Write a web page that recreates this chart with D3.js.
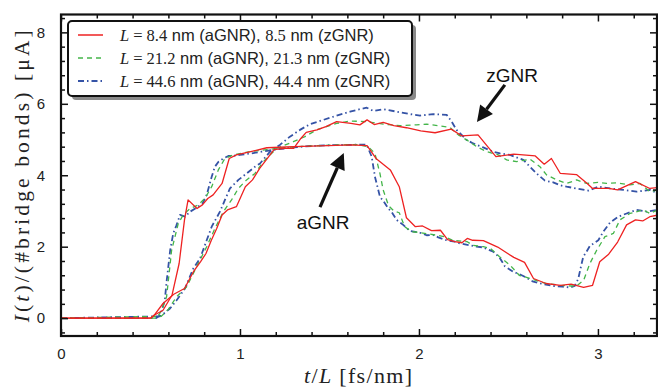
<!DOCTYPE html>
<html>
<head>
<meta charset="utf-8">
<script src="https://cdn.jsdelivr.net/npm/d3@7"></script>
<style>
  html, body { margin: 0; padding: 0; background: #fff; }
  svg { display: block; }
</style>
</head>
<body>
<svg id="chart" width="658" height="388"></svg>
<script>
// Current per bridge bond versus scaled time t/L, for three ribbon lengths.
// Each series: t/L values and currents in µA.

// L = 8.4 nm armchair ribbon
const tRedA = [0, 0.50, 0.52, 0.57, 0.62, 0.66, 0.69, 0.71, 0.76, 0.79, 0.82, 0.85, 0.90, 0.94, 0.98, 1.06, 1.15, 1.30, 1.45, 1.62, 1.71, 1.76, 1.84, 1.89, 1.93, 1.98, 2.02, 2.07, 2.12, 2.16, 2.20, 2.24, 2.27, 2.30, 2.36, 2.44, 2.53, 2.59, 2.64, 2.71, 2.79, 2.85, 2.92, 2.97, 3.01, 3.06, 3.11, 3.16, 3.21, 3.25, 3.29, 3.34];
const iRedA = [0, 0, 0.08, 0.22, 0.64, 1.53, 2.75, 3.31, 3.07, 3.17, 3.35, 3.45, 3.77, 4.47, 4.57, 4.66, 4.77, 4.80, 4.82, 4.85, 4.83, 4.47, 4.15, 3.68, 2.81, 2.56, 2.58, 2.45, 2.46, 2.20, 2.14, 2.11, 2.23, 2.18, 2.17, 1.99, 1.70, 1.56, 1.11, 0.97, 0.92, 0.95, 0.86, 0.92, 1.58, 1.79, 2.13, 2.61, 2.75, 2.72, 2.84, 2.89];

// L = 8.5 nm zigzag ribbon
const tRedZ = [0, 0.50, 0.52, 0.57, 0.63, 0.69, 0.74, 0.78, 0.81, 0.84, 0.87, 0.90, 0.93, 0.98, 1.03, 1.07, 1.11, 1.15, 1.19, 1.25, 1.30, 1.34, 1.37, 1.43, 1.48, 1.54, 1.62, 1.67, 1.71, 1.75, 1.80, 1.86, 1.93, 2.01, 2.09, 2.18, 2.24, 2.33, 2.43, 2.53, 2.65, 2.70, 2.74, 2.79, 2.88, 2.94, 2.97, 3.06, 3.11, 3.21, 3.29, 3.34];
const iRedZ = [0, 0, 0.08, 0.41, 0.67, 0.83, 1.30, 1.58, 1.81, 2.18, 2.51, 2.89, 3.03, 3.12, 3.68, 3.87, 4.19, 4.45, 4.72, 4.75, 4.75, 5.03, 5.20, 5.27, 5.36, 5.50, 5.45, 5.41, 5.55, 5.42, 5.48, 5.39, 5.33, 5.24, 5.19, 5.29, 5.10, 5.13, 4.52, 4.59, 4.54, 4.31, 4.47, 4.05, 4.02, 3.77, 3.63, 3.63, 3.59, 3.82, 3.63, 3.66];

// L = 21.2 nm armchair ribbon
const tGreenA = [0, 0.535, 0.56, 0.59, 0.60, 0.618, 0.637, 0.655, 0.683, 0.721, 0.767, 0.804, 0.842, 0.879, 0.916, 0.963, 1.056, 1.15, 1.25, 1.35, 1.45, 1.55, 1.65, 1.717, 1.754, 1.782, 1.80, 1.83, 1.86, 1.89, 1.92, 1.96, 2.00, 2.05, 2.10, 2.14, 2.19, 2.27, 2.30, 2.36, 2.40, 2.45, 2.51, 2.56, 2.64, 2.71, 2.79, 2.85, 2.88, 2.92, 2.955, 2.993, 3.039, 3.086, 3.123, 3.179, 3.253, 3.291, 3.335];
const iGreenA = [0, 0, 0.20, 0.60, 1.06, 1.90, 2.28, 2.65, 2.89, 3.07, 3.17, 3.35, 3.68, 4.15, 4.47, 4.57, 4.66, 4.72, 4.77, 4.81, 4.83, 4.85, 4.86, 4.80, 4.61, 4.05, 3.59, 3.15, 3.00, 2.95, 2.56, 2.42, 2.40, 2.36, 2.32, 2.28, 2.18, 2.14, 2.04, 2.00, 1.95, 1.72, 1.48, 1.20, 1.08, 0.97, 0.92, 0.90, 0.90, 1.06, 1.53, 1.90, 2.28, 2.37, 2.75, 2.93, 3.03, 2.93, 3.03];

// L = 21.3 nm zigzag ribbon
const tGreenZ = [0, 0.56, 0.60, 0.646, 0.702, 0.758, 0.814, 0.860, 0.907, 0.953, 0.991, 1.037, 1.084, 1.13, 1.205, 1.298, 1.363, 1.428, 1.54, 1.615, 1.708, 1.801, 1.894, 1.987, 2.043, 2.117, 2.173, 2.22, 2.266, 2.322, 2.378, 2.443, 2.49, 2.546, 2.62, 2.676, 2.713, 2.769, 2.825, 2.881, 2.937, 3.0, 3.049, 3.104, 3.179, 3.235, 3.291, 3.335];
const iGreenZ = [0, 0.05, 0.25, 0.60, 0.88, 1.44, 2.00, 2.51, 2.98, 3.31, 3.63, 3.87, 4.05, 4.38, 4.75, 4.94, 5.08, 5.27, 5.45, 5.52, 5.50, 5.43, 5.39, 5.41, 5.43, 5.38, 5.34, 5.13, 4.99, 4.80, 4.66, 4.57, 4.43, 4.38, 4.45, 4.24, 4.01, 3.87, 3.77, 3.87, 3.77, 3.80, 3.77, 3.79, 3.73, 3.77, 3.54, 3.59];

// L = 44.6 nm armchair ribbon
const tBlueA = [0, 0.53, 0.555, 0.58, 0.59, 0.61, 0.627, 0.645, 0.665, 0.693, 0.721, 0.76, 0.79, 0.814, 0.842, 0.86, 0.88, 0.907, 0.935, 0.97, 1.0, 1.06, 1.12, 1.2, 1.3, 1.4, 1.5, 1.6, 1.69, 1.708, 1.736, 1.754, 1.782, 1.805, 1.829, 1.85, 1.875, 1.912, 1.95, 2.006, 2.043, 2.08, 2.108, 2.155, 2.2, 2.229, 2.285, 2.322, 2.359, 2.415, 2.45, 2.48, 2.527, 2.583, 2.639, 2.7, 2.75, 2.80, 2.844, 2.87, 2.89, 2.905, 2.918, 2.935, 2.955, 3.002, 3.03, 3.067, 3.114, 3.16, 3.216, 3.272, 3.335];
const iBlueA = [0, 0, 0.08, 0.50, 1.02, 1.90, 2.37, 2.60, 2.89, 2.84, 2.98, 3.10, 3.20, 3.45, 3.96, 4.24, 4.38, 4.47, 4.54, 4.55, 4.57, 4.61, 4.66, 4.72, 4.78, 4.82, 4.84, 4.85, 4.86, 4.85, 4.52, 3.96, 3.40, 3.25, 3.07, 2.95, 2.75, 2.61, 2.44, 2.39, 2.32, 2.33, 2.26, 2.18, 2.14, 2.09, 2.04, 2.00, 1.98, 1.86, 1.70, 1.45, 1.30, 1.18, 1.02, 0.95, 0.90, 0.88, 0.86, 0.90, 1.10, 1.44, 1.72, 1.85, 2.02, 2.18, 2.42, 2.67, 2.84, 2.93, 3.03, 2.98, 3.03];

// L = 44.4 nm zigzag ribbon
const tBlueZ = [0, 0.553, 0.58, 0.609, 0.646, 0.693, 0.739, 0.777, 0.814, 0.842, 0.888, 0.916, 0.944, 0.991, 1.037, 1.084, 1.112, 1.168, 1.223, 1.279, 1.335, 1.391, 1.466, 1.54, 1.615, 1.67, 1.708, 1.745, 1.801, 1.876, 1.95, 2.006, 2.08, 2.155, 2.183, 2.21, 2.266, 2.303, 2.359, 2.415, 2.453, 2.508, 2.583, 2.62, 2.657, 2.704, 2.75, 2.788, 2.825, 2.881, 2.946, 3.002, 3.067, 3.142, 3.216, 3.291, 3.335];
const iBlueZ = [0, 0.05, 0.15, 0.27, 0.50, 0.83, 1.39, 1.67, 2.18, 2.56, 2.98, 3.31, 3.63, 3.87, 4.05, 4.24, 4.33, 4.66, 4.85, 5.08, 5.27, 5.43, 5.55, 5.67, 5.78, 5.85, 5.89, 5.80, 5.85, 5.78, 5.71, 5.67, 5.71, 5.69, 5.50, 5.27, 4.99, 4.89, 4.78, 4.66, 4.61, 4.57, 4.43, 4.24, 4.05, 3.85, 3.80, 3.72, 3.68, 3.63, 3.57, 3.68, 3.63, 3.59, 3.54, 3.59, 3.49];

// Legend entries
const legendLengths = [["8.4", "8.5"], ["21.2", "21.3"], ["44.6", "44.4"]];
const seriesColors = ["#ee2222", "#44b54a", "#3553a6"];
const seriesDashes = [null, "5,4", "6,3,1.5,3"];

// Axis ticks
const xMajorTicks = [0, 1, 2, 3];
const yMajorTicks = [0, 2, 4, 6, 8];

const svg = d3.select("#chart");
const plot = { left: 61, right: 657, top: 14.5, bottom: 336 };

const x = d3.scaleLinear().domain([0, 3.33]).range([plot.left, plot.right]);
const y = d3.scaleLinear().domain([-0.5, 8.5]).range([plot.bottom, plot.top]);

const xMinor = d3.range(0, 3.33, 0.2).map(v => +v.toFixed(2)).filter(v => !xMajorTicks.includes(v));
const yMinor = d3.range(-0.4, 8.5, 0.4).map(v => +v.toFixed(2)).filter(v => !yMajorTicks.includes(v));

// Curves
const groups = [
  [[tRedA, iRedA], [tRedZ, iRedZ]],
  [[tGreenA, iGreenA], [tGreenZ, iGreenZ]],
  [[tBlueA, iBlueA], [tBlueZ, iBlueZ]]
];

svg.append("defs").append("clipPath").attr("id", "plotClip")
  .append("rect")
  .attr("x", plot.left).attr("y", plot.top)
  .attr("width", plot.right - plot.left).attr("height", plot.bottom - plot.top);

const line = d3.line().x(d => x(d[0])).y(d => y(d[1]));
const curves = svg.append("g").attr("clip-path", "url(#plotClip)");

// draw the shorter ribbons last so red sits on top
[2, 1, 0].forEach(k => {
  groups[k].forEach(([ts, is]) => {
    curves.append("path")
      .datum(ts.map((t, i) => [t, is[i]]))
      .attr("d", line)
      .attr("fill", "none")
      .attr("stroke", seriesColors[k])
      .attr("stroke-width", k === 2 ? 1.8 : 1.3)
      .attr("stroke-dasharray", seriesDashes[k])
      .attr("stroke-linejoin", "round");
  });
});

// Axes with inward ticks on all four sides
function styleAxis(g) {
  g.select(".domain").remove();
  g.selectAll(".tick line").attr("stroke", "#111").attr("stroke-width", 1.5);
}
const tickFont = "'Liberation Sans', Arial, sans-serif";

svg.append("g").attr("transform", `translate(0,${plot.bottom})`)
  .call(d3.axisBottom(x).tickValues(xMajorTicks).tickSize(-7).tickPadding(12).tickFormat(d3.format("d")))
  .call(styleAxis)
  .call(g => g.selectAll("text").attr("font-family", tickFont).attr("font-size", 15).attr("fill", "#222"));
svg.append("g").attr("transform", `translate(0,${plot.bottom})`)
  .call(d3.axisBottom(x).tickValues(xMinor).tickSize(-4).tickFormat(""))
  .call(styleAxis);
svg.append("g").attr("transform", `translate(0,${plot.top})`)
  .call(d3.axisTop(x).tickValues(xMajorTicks).tickSize(-7).tickFormat(""))
  .call(styleAxis);
svg.append("g").attr("transform", `translate(0,${plot.top})`)
  .call(d3.axisTop(x).tickValues(xMinor).tickSize(-4).tickFormat(""))
  .call(styleAxis);

svg.append("g").attr("transform", `translate(${plot.left},0)`)
  .call(d3.axisLeft(y).tickValues(yMajorTicks).tickSize(-7).tickPadding(16).tickFormat(d3.format("d")))
  .call(styleAxis)
  .call(g => g.selectAll("text").attr("font-family", tickFont).attr("font-size", 15).attr("fill", "#222"));
svg.append("g").attr("transform", `translate(${plot.left},0)`)
  .call(d3.axisLeft(y).tickValues(yMinor).tickSize(-4).tickFormat(""))
  .call(styleAxis);
svg.append("g").attr("transform", `translate(${plot.right},0)`)
  .call(d3.axisRight(y).tickValues(yMajorTicks).tickSize(-7).tickFormat(""))
  .call(styleAxis);
svg.append("g").attr("transform", `translate(${plot.right},0)`)
  .call(d3.axisRight(y).tickValues(yMinor).tickSize(-4).tickFormat(""))
  .call(styleAxis);

// Frame
svg.append("rect")
  .attr("x", plot.left).attr("y", plot.top)
  .attr("width", plot.right - plot.left).attr("height", plot.bottom - plot.top)
  .attr("fill", "none").attr("stroke", "#111").attr("stroke-width", 2.2);

// Axis titles
const serif = "'Liberation Serif', 'DejaVu Serif', serif";
const xt = svg.append("text")
  .attr("x", (plot.left + plot.right) / 2 - 1).attr("y", 383)
  .attr("text-anchor", "middle")
  .attr("textLength", 108).attr("lengthAdjust", "spacing")
  .attr("font-family", serif).attr("font-size", 22).attr("fill", "#222");
xt.append("tspan").attr("font-style", "italic").text("t");
xt.append("tspan").text("/");
xt.append("tspan").attr("font-style", "italic").text("L");
xt.append("tspan").text(" [fs/nm]");

const yt = svg.append("text")
  .attr("transform", `translate(29,${(y(8.5) + y(-0.5)) / 2 + 1}) rotate(-90)`)
  .attr("text-anchor", "middle")
  .attr("textLength", 292).attr("lengthAdjust", "spacing")
  .attr("font-family", serif).attr("font-size", 21.5).attr("fill", "#222");
yt.append("tspan").attr("font-style", "italic").text("I");
yt.append("tspan").text("(");
yt.append("tspan").attr("font-style", "italic").text("t");
yt.append("tspan").text(")/(#bridge bonds) [μA]");

// Annotations
function arrow(x0, y0, x1, y1) {
  const g = svg.append("g");
  const ang = Math.atan2(y1 - y0, x1 - x0);
  const headLen = 16, headHalf = 8;
  const bx = x1 - headLen * Math.cos(ang), by = y1 - headLen * Math.sin(ang);
  g.append("line")
    .attr("x1", x0).attr("y1", y0).attr("x2", bx).attr("y2", by)
    .attr("stroke", "#111").attr("stroke-width", 3.2);
  const px = -Math.sin(ang) * headHalf, py = Math.cos(ang) * headHalf;
  g.append("path")
    .attr("d", `M${x1},${y1}L${bx + px},${by + py}L${bx - px},${by - py}Z`)
    .attr("fill", "#111");
}
arrow(x(1.447), y(3.11), x(1.58), y(4.62));
arrow(x(2.48), y(6.53), x(2.324), y(5.49));

svg.append("text").attr("x", x(1.464)).attr("y", y(2.5))
  .attr("text-anchor", "middle").attr("font-family", tickFont)
  .attr("font-size", 19).attr("fill", "#111").text("aGNR");
svg.append("text").attr("x", x(2.52)).attr("y", y(6.6))
  .attr("text-anchor", "middle").attr("font-family", tickFont)
  .attr("font-size", 19).attr("fill", "#111").text("zGNR");

// Legend
const lg = svg.append("g");
const box = { x: 68, y: 21, w: 344, h: 75 };
lg.append("rect").attr("x", box.x + 4).attr("y", box.y + 4)
  .attr("width", box.w).attr("height", box.h).attr("rx", 4)
  .attr("fill", "#8a8a8a");
lg.append("rect").attr("x", box.x).attr("y", box.y)
  .attr("width", box.w).attr("height", box.h).attr("rx", 4)
  .attr("fill", "#fff").attr("stroke", "#111").attr("stroke-width", 2);

const sans = "'Liberation Sans', Arial, sans-serif";
legendLengths.forEach(([la, lz], k) => {
  const cy = 35 + k * 23;
  lg.append("line")
    .attr("x1", 78).attr("x2", 103).attr("y1", cy).attr("y2", cy)
    .attr("stroke", seriesColors[k]).attr("stroke-width", k === 2 ? 1.8 : 1.5)
    .attr("stroke-dasharray", seriesDashes[k]);
  const t = lg.append("text").attr("x", 120).attr("y", cy + 5.5)
    .attr("font-size", 16.5).attr("fill", "#222");
  t.append("tspan").attr("font-family", serif).attr("font-style", "italic").text("L");
  t.append("tspan").attr("font-family", serif).attr("dx", 4).text("=");
  t.append("tspan").attr("font-family", serif).attr("dx", 4).text(la);
  t.append("tspan").attr("font-family", sans).text(" nm (aGNR), ");
  t.append("tspan").attr("font-family", serif).text(lz);
  t.append("tspan").attr("font-family", sans).text(" nm (zGNR)");
});
</script>
</body>
</html>
